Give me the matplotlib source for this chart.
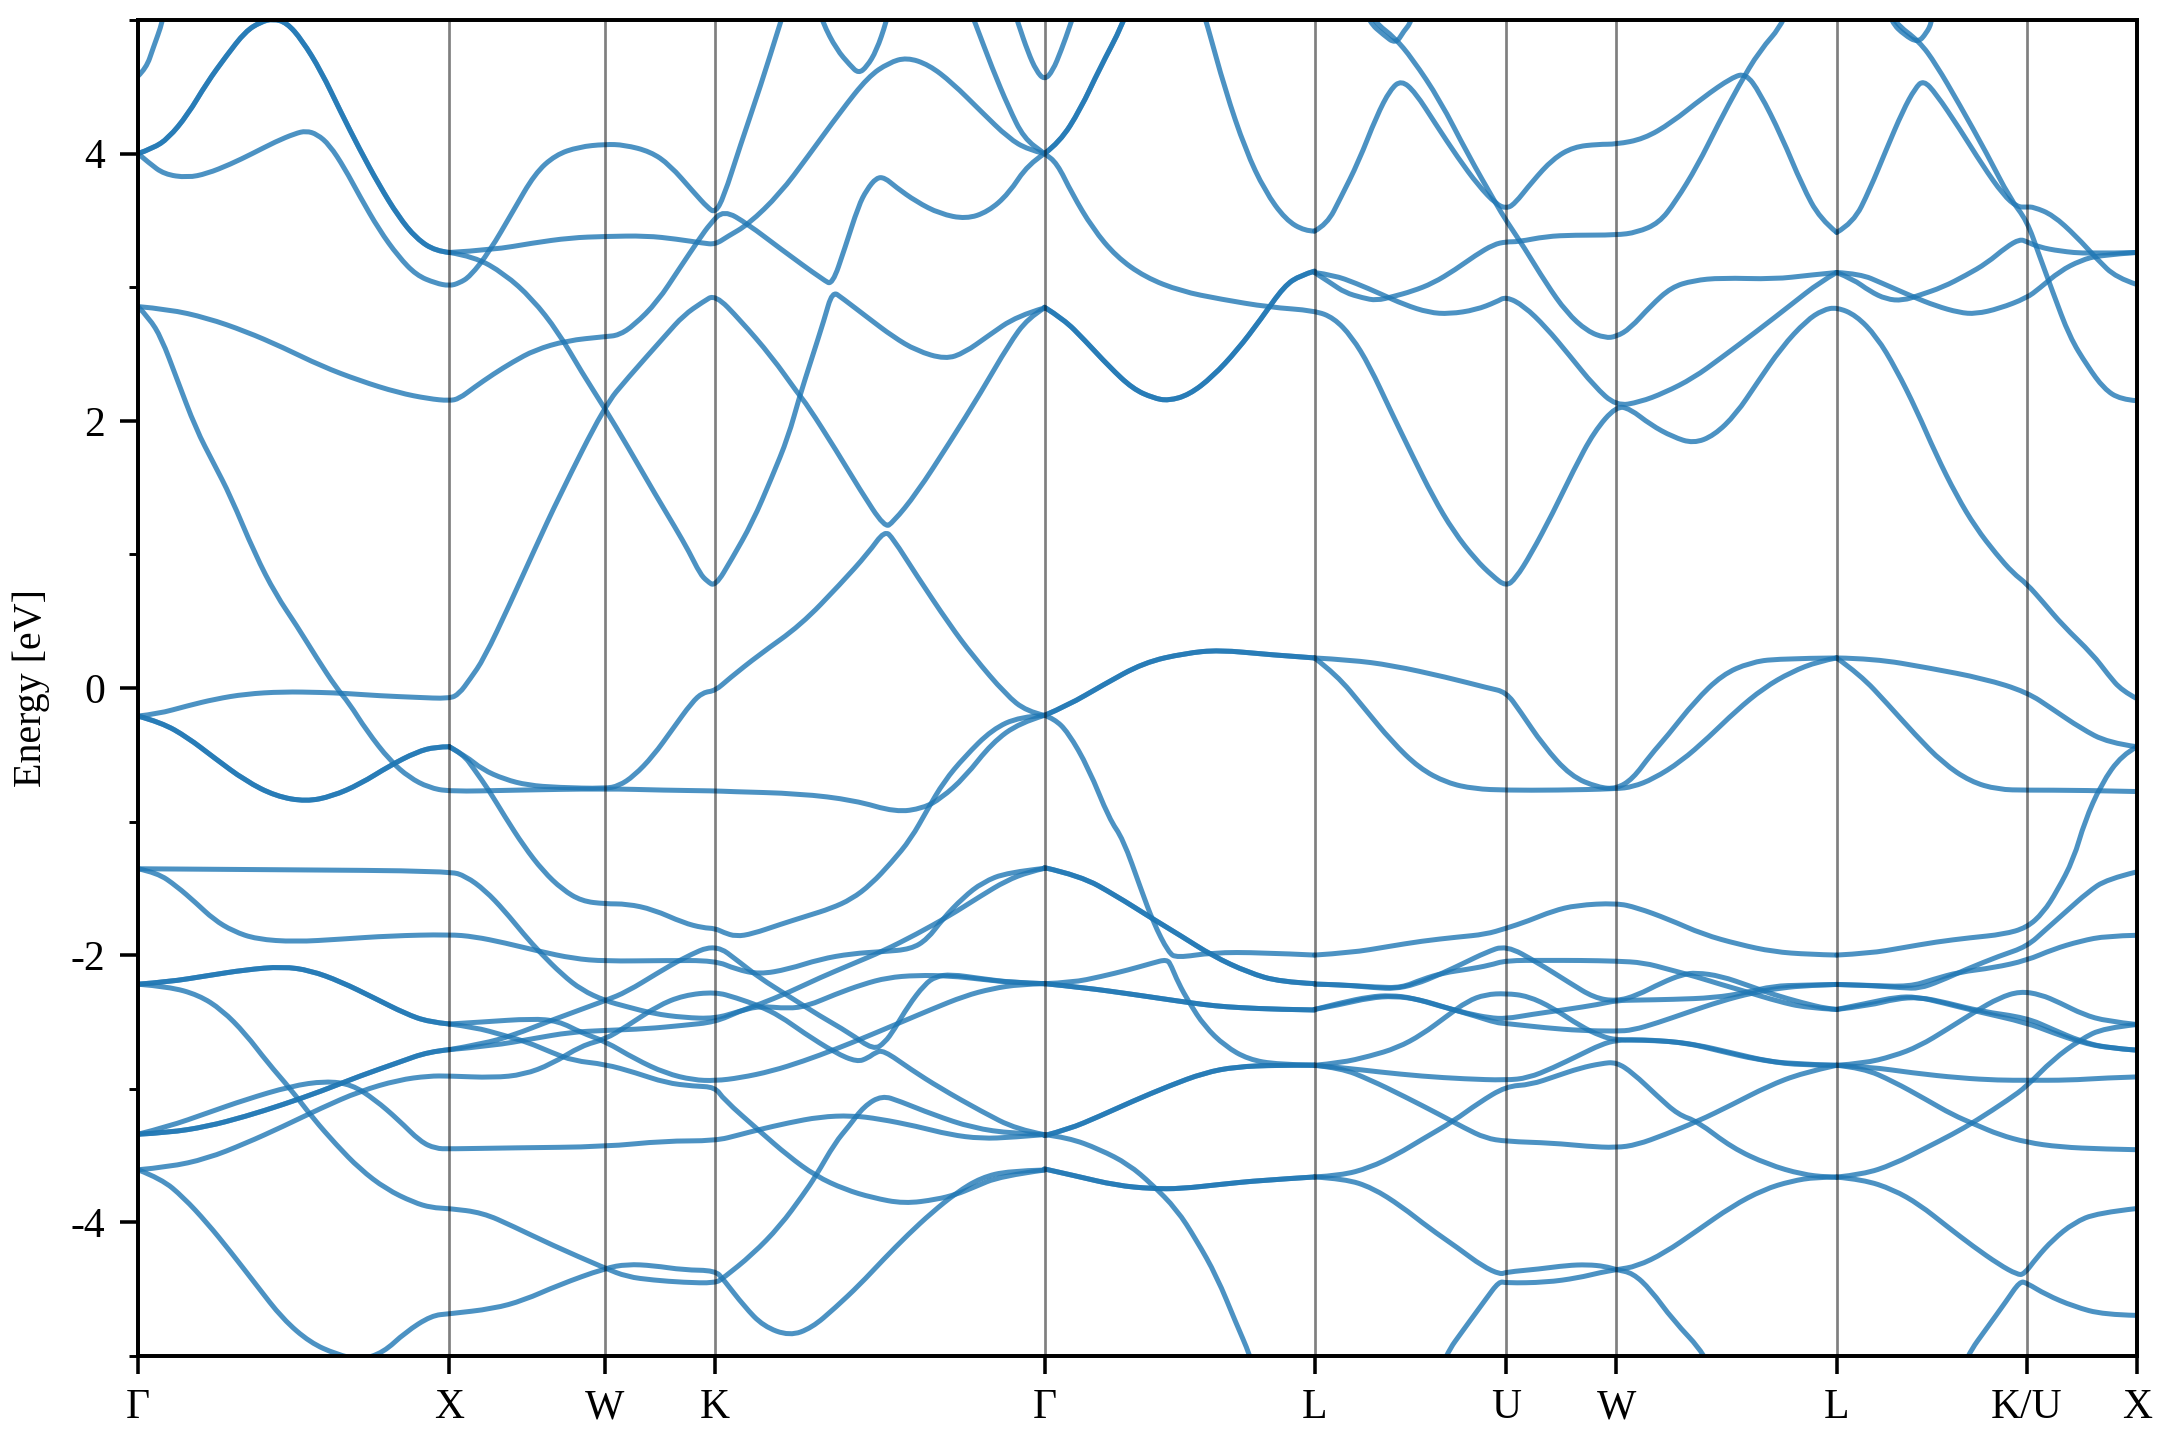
import matplotlib
matplotlib.use('Agg')
import matplotlib.pyplot as plt
from matplotlib.patches import PathPatch
from matplotlib.path import Path
import numpy as np

plt.rcParams['font.family'] = ['Liberation Serif', 'DejaVu Serif']
plt.rcParams['axes.unicode_minus'] = False

# high symmetry points, k is the distance along the path
k_ticks = [0, 226, 339, 419, 658, 854, 993, 1073, 1233, 1371, 1451]
k_labels = ['Γ', 'X', 'W', 'K', 'Γ', 'L', 'U', 'W', 'L', 'K/U', 'X']

# Gamma - X, bands that are doubly degenerate
gx_d1 = [(0,4.0),(11,4.04),(22,4.115),(36,4.29),(50,4.53),(64,4.73),(78,4.915),(89,4.985),(98,5.01),(108,4.98),(119,4.85),(133,4.615),(147,4.315),(161,4.03),(175,3.765),(189,3.53),(202,3.365),(216,3.27),(226,3.26)]
gx_d2 = [(0,-.21),(17,-.258),(36,-.37),(55,-.52),(78,-.695),(100,-.81),(122,-.85),(141,-.81),(161,-.72),(183,-.58),(202,-.48),(216,-.44),(226,-.44)]
gx_d3 = [(0,-2.217),(22,-2.2),(50,-2.154),(78,-2.109),(105,-2.085),(125,-2.114),(147,-2.197),(172,-2.323),(194,-2.437),(211,-2.5),(226,-2.515)]
gx_d4 = [(0,-3.34),(22,-3.328),(50,-3.283),(78,-3.207),(105,-3.119),(133,-3.018),(161,-2.904),(189,-2.803),(211,-2.722),(226,-2.707)]

# Gamma - X - W - K - Gamma
p1 = [(0,4.58),(6,4.64),(11,4.79),(18,4.99),(20,5.1)]
p2 = [(0,4.0),(8,3.93),(19,3.845),(36,3.82),(50,3.85),(67,3.92),(83,4.0),(100,4.09),(114,4.15),(122,4.17),(130,4.145),(139,4.065),(150,3.89),(161,3.68),(175,3.43),(189,3.23),(202,3.09),(216,3.03),(226,3.01),
      (233,3.03),(241,3.08),(255,3.265),(272,3.565),(288,3.85),(303,3.99),(320,4.05),(339,4.07),(353,4.065),(372,4.015),(386,3.915),(403,3.715),(414,3.59),(419,3.56),(425,3.67),(437,4.055),(452,4.51),(466,4.97),(470,5.1)]
p3 = [(0,2.855),(22,2.835),(50,2.77),(78,2.67),(105,2.55),(133,2.41),(161,2.3),(189,2.21),(211,2.165),(226,2.15),
      (233,2.165),(244,2.25),(258,2.35),(272,2.44),(288,2.53),(311,2.6),(339,2.63),(349,2.64),(360,2.715),(377,2.89),(393,3.14),(408,3.37),(415,3.47),(425,3.58),(443,3.47),(466,3.29),(498,3.05),(504,3.02),
      (513,3.29),(523,3.61),(529,3.73),(536,3.82),(542,3.82),(550,3.75),(565,3.64),(582,3.55),(601,3.51),(617,3.565),(632,3.7),(646,3.92),(658,4.0)]
p4 = [(0,2.855),(8,2.77),(17,2.62),(28,2.32),(42,1.94),(55,1.68),(67,1.44),(85,1.0),(100,.7),(115,.47),(130,.22),(144,0),(153,-.11),(166,-.32),(183,-.545),(197,-.67),(211,-.745),(226,-.775),
      (272,-.765),(339,-.753),(382,-.765),(419,-.77),(429,-.775),(480,-.79),(520,-.84),(550,-.93),(570,-.9),(583,-.825),(600,-.67),(620,-.41),(640,-.26),(658,-.205)]
p5 = [(0,-.21),(14,-.195),(36,-.133),(56,-.083),(78,-.045),(105,-.028),(133,-.033),(150,-.04),(175,-.058),(202,-.07),(226,-.08),
      (233,-.045),(241,.067),(251,.217),(270,.63),(288,1.04),(306,1.44),(339,2.115),(355,2.315),(383,2.64),(396,2.79),(410,2.89),(419,2.945),
      (437,2.755),(460,2.48),(479,2.205),(486,2.115),(507,1.775),(524,1.485),(542,1.2),(548,1.24),(565,1.455),(589,1.835),(612,2.215),(632,2.57),(646,2.77),(658,2.845)]
p6 = [(0,-1.353),(100,-1.36),(226,-1.37),(238,-1.409),(252,-1.515),(266,-1.667),(280,-1.843),(292,-1.982),(308,-2.146),(322,-2.26),(339,-2.341),(355,-2.386),(374,-2.437),(396,-2.467),(419,-2.475),
      (437,-2.418),(451,-2.38),(472,-2.4),(486,-2.38),(506,-2.293),(526,-2.218),(544,-2.168),(565,-2.15),(590,-2.155),(612,-2.18),(635,-2.205),(658,-2.213)]
p7 = [(0,-1.353),(14,-1.383),(28,-1.483),(42,-1.608),(55,-1.733),(69,-1.82),(86,-1.88),(114,-1.9),(147,-1.88),(183,-1.855),(226,-1.845),
      (244,-1.861),(266,-1.907),(291,-1.97),(316,-2.025),(339,-2.045),(382,-2.04),(419,-2.04),(434,-2.105),(451,-2.143),(472,-2.105),(495,-2.03),(518,-1.988),(541,-1.973),(561,-1.955),(573,-1.88),(584,-1.73),(599,-1.568),(613,-1.455),(631,-1.38),(658,-1.35)]
p8 = [(0,-2.217),(22,-2.235),(44,-2.298),(61,-2.41),(78,-2.588),(94,-2.803),(111,-3.005),(127,-3.22),(144,-3.42),(161,-3.6),(180,-3.75),(200,-3.85),(213,-3.89),(226,-3.896),
      (250,-3.927),(272,-4.028),(300,-4.167),(339,-4.343),(355,-4.407),(374,-4.432),(396,-4.449),(419,-4.455),(425,-4.415),(446,-4.24),(466,-4.028),(483,-3.79),(492,-3.653),(506,-3.403),(516,-3.28),(527,-3.13),(540,-3.05),(553,-3.093),(577,-3.193),(606,-3.293),(635,-3.335),(658,-3.343)]
p9 = [(0,-3.34),(22,-3.283),(50,-3.182),(78,-3.081),(111,-2.98),(136,-2.942),(155,-2.967),(172,-3.081),(189,-3.232),(205,-3.396),(216,-3.447),(226,-3.45),
      (272,-3.442),(339,-3.434),(382,-3.39),(419,-3.39),(437,-3.343),(451,-3.305),(472,-3.255),(495,-3.21),(518,-3.2),(538,-3.225),(565,-3.28),(589,-3.343),(612,-3.373),(635,-3.363),(658,-3.343)]
p10 = [(0,-3.606),(22,-3.586),(50,-3.523),(78,-3.409),(105,-3.283),(133,-3.144),(161,-3.018),(189,-2.934),(211,-2.904),(226,-2.904),
       (258,-2.917),(280,-2.894),(300,-2.816),(322,-2.677),(339,-2.63),(355,-2.53),(377,-2.38),(396,-2.3),(419,-2.275),(434,-2.318),(451,-2.38),(466,-2.455),(483,-2.58),(506,-2.73),(522,-2.8),(530,-2.768),(535,-2.73),(541,-2.71),(561,-2.855),(582,-2.993),(612,-3.168),(638,-3.305),(658,-3.343)]
p11 = [(0,-3.606),(17,-3.674),(33,-3.813),(50,-4.002),(67,-4.217),(86,-4.47),(105,-4.722),(125,-4.9),(144,-4.987),(161,-5.03),(178,-4.975),(194,-4.823),(213,-4.697),(226,-4.684),
       (258,-4.646),(280,-4.583),(305,-4.47),(339,-4.343),(355,-4.313),(374,-4.323),(396,-4.356),(419,-4.36),(425,-4.428),(440,-4.628),(454,-4.778),(473,-4.85),(489,-4.79),(506,-4.64),(524,-4.465),(541,-4.278),(559,-4.09),(576,-3.928),(594,-3.778),(612,-3.665),(632,-3.615),(658,-3.608)]

# pieces that leave the X point
p12 = [(226,3.26),(258,3.28),(286,3.33),(314,3.37),(339,3.38),(369,3.385),(391,3.36),(410,3.33),(419,3.32),(428,3.38),(443,3.47),(466,3.7),(486,3.975),(510,4.315),(530,4.575),(545,4.68),(558,4.72),(574,4.665),(591,4.53),(612,4.315),(632,4.115),(646,4.03),(658,4.0)]
p13 = [(226,3.26),(244,3.23),(266,3.1),(286,2.915),(305,2.665),(322,2.365),(339,2.09),(355,1.815),(376,1.44),(390,1.2),(400,1.02),(408,.855),(413,.8),(419,.76),
       (431,.965),(446,1.24),(460,1.575),(472,1.88),(480,2.175),(489,2.465),(498,2.755),(504,2.97),(511,2.92),(530,2.77),(548,2.63),(565,2.525),(586,2.46),(600,2.51),(617,2.635),(638,2.785),(658,2.845)]
p14 = [(226,-.44),(238,-.51),(250,-.61),(266,-.683),(283,-.728),(305,-.745),(339,-.753),(349,-.733),(360,-.658),(374,-.508),(388,-.308),(402,-.108),(410,-.033),(419,-.021),(429,.07),(451,.25),(481,.47),(510,.78),(530,1.01),(542,1.18),(548,1.12),(565,.845),(589,.475),(606,.24),(630,-.05),(645,-.175),(658,-.205)]
p15 = [(226,-.44),(236,-.495),(244,-.608),(255,-.77),(266,-.958),(280,-1.183),(294,-1.37),(308,-1.508),(322,-1.595),(339,-1.616),(355,-1.616),(374,-1.658),(396,-1.758),(410,-1.795),(419,-1.8),(425,-1.83),(434,-1.86),(446,-1.84),(466,-1.77),(486,-1.705),(503,-1.65),(518,-1.58),(532,-1.47),(547,-1.305),(561,-1.13),(573,-.91),(585,-.7),(600,-.515),(620,-.31),(640,-.215),(658,-.205)]
p16 = [(226,-2.515),(250,-2.5),(286,-2.475),(305,-2.492),(322,-2.581),(339,-2.644),(361,-2.778),(383,-2.884),(403,-2.934),(419,-2.94),(437,-2.918),(460,-2.868),(483,-2.793),(506,-2.705),(530,-2.605),(553,-2.505),(576,-2.405),(600,-2.305),(620,-2.25),(640,-2.218),(658,-2.213)]
p17 = [(226,-2.515),(244,-2.538),(266,-2.601),(283,-2.652),(300,-2.727),(316,-2.79),(339,-2.816),(361,-2.879),(383,-2.955),(403,-2.98),(419,-2.987),(425,-3.078),(451,-3.315),(472,-3.503),(492,-3.653),(513,-3.753),(533,-3.815),(556,-3.86),(580,-3.828),(594,-3.79),(606,-3.74),(626,-3.653),(658,-3.608)]
p18 = [(226,-2.707),(250,-2.664),(272,-2.601),(300,-2.487),(339,-2.341),(355,-2.273),(377,-2.134),(396,-2.02),(419,-1.915),(437,-2.055),(451,-2.168),(472,-2.305),(495,-2.455),(516,-2.58),(534,-2.71),(542,-2.655),(549,-2.555),(559,-2.38),(571,-2.218),(579,-2.16),(590,-2.143),(612,-2.175),(635,-2.205),(658,-2.213)]
p19 = [(226,-2.707),(258,-2.677),(286,-2.626),(314,-2.576),(339,-2.563),(369,-2.551),(396,-2.525),(419,-2.5),(437,-2.418),(451,-2.368),(472,-2.28),(495,-2.168),(518,-2.068),(541,-1.968),(565,-1.843),(589,-1.705),(612,-1.555),(630,-1.443),(647,-1.375),(658,-1.35)]

# top of the window around K - Gamma - L
p20 = [(493,5.1),(497,4.98),(507,4.78),(517,4.66),(523,4.6),(529,4.65),(536,4.77),(543,4.98),(546,5.1)]
p21 = [(603,5.1),(608,4.97),(620,4.64),(632,4.345),(643,4.115),(658,4.0),(667,3.93),(678,3.7),(693,3.44),(710,3.23),(731,3.075),(757,2.97),(786,2.91),(821,2.85),(854,2.825),
       (868,2.77),(881,2.63),(894,2.41),(909,2.08),(925,1.74),(940,1.43),(955,1.17),(971,.96),(983,.84),(993,.76),(1000,.82),(1011,1.0),(1027,1.31),(1042,1.63),(1057,1.92),(1073,2.11),
       (1083,2.09),(1098,1.97),(1114,1.88),(1129,1.83),(1144,1.89),(1160,2.05),(1175,2.28),(1193,2.55),(1211,2.75),(1223,2.83),(1233,2.85),(1247,2.79),(1262,2.63),(1276,2.39),(1291,2.08),(1305,1.75),(1320,1.44),(1334,1.2),(1349,1.0),(1361,.86),(1371,.78),(1383,.64),(1397,.47),(1419,.25),(1430,.1),(1440,-.02),(1451,-.08)]
p22 = [(635,5.1),(639,4.97),(646,4.76),(652,4.62),(658,4.55),(664,4.62),(670,4.77),(677,4.97),(681,5.1)]

# Gamma - L
gl_d1 = [(658,4.0),(669,4.085),(684,4.33),(698,4.636),(715,4.97),(719,5.1)]
gl_d2 = [(658,2.85),(672,2.76),(687,2.605),(705,2.405),(722,2.24),(737,2.17),(748,2.15),(763,2.195),(780,2.33),(798,2.53),(815,2.76),(832,3.01),(844,3.09),(854,3.12)]
gl_d3 = [(658,-.205),(675,-.13),(700,.02),(730,.19),(760,.26),(785,.285),(820,.25),(854,.225)]
gl_d4 = [(658,-1.345),(684,-1.405),(710,-1.555),(735,-1.718),(757,-1.855),(780,-2.005),(806,-2.13),(829,-2.2),(854,-2.213)]
gl_d5 = [(658,-2.213),(687,-2.243),(722,-2.293),(743,-2.325),(763,-2.355),(782,-2.38),(800,-2.393),(827,-2.405),(854,-2.41)]
gl_d6 = [(658,-3.35),(675,-3.305),(698,-3.205),(722,-3.093),(748,-2.98),(774,-2.88),(797,-2.835),(827,-2.823),(854,-2.823)]
gl_d7 = [(658,-3.6),(681,-3.653),(710,-3.723),(736,-3.748),(757,-3.748),(786,-3.715),(815,-3.685),(854,-3.66)]
gl1 = [(772,5.1),(776,4.97),(789,4.48),(804,4.025),(818,3.72),(833,3.505),(847,3.42),(854,3.42)]
gl2 = [(658,-.205),(665,-.23),(675,-.33),(690,-.6),(705,-.98),(715,-1.13),(728,-1.505),(737,-1.755),(748,-1.98),(754,-2.02),(780,-1.98),(815,-1.98),(854,-1.999)]
gl3 = [(658,-2.213),(678,-2.205),(699,-2.16),(719,-2.11),(736,-2.06),(747,-2.03),(750,-2.08),(755,-2.205),(763,-2.355),(774,-2.53),(789,-2.68),(806,-2.78),(827,-2.818),(854,-2.824)]
gl4 = [(658,-3.343),(675,-3.365),(698,-3.453),(719,-3.565),(736,-3.715),(754,-3.903),(768,-4.128),(783,-4.403),(797,-4.753),(807,-4.99),(812,-5.15)]

# L - U - W - L
lu1 = [(854,3.42),(863,3.47),(873,3.67),(886,3.94),(899,4.28),(909,4.48),(917,4.55),(927,4.46),(942,4.22),(958,3.97),(973,3.76),(986,3.62),(993,3.59),(999,3.62),(1012,3.79),(1027,3.96),(1042,4.05),(1060,4.07),(1073,4.07),(1093,4.11),(1113,4.23),(1136,4.42),(1157,4.57),(1167,4.6),(1177,4.46),(1193,4.13),(1208,3.76),(1221,3.51),(1233,3.41)]
lu2 = [(890,5.1),(898,4.98),(912,4.87),(925,4.71),(945,4.4),(965,4.0),(986,3.62),(993,3.5),(1006,3.3),(1022,3.03),(1037,2.81),(1052,2.67),(1065,2.62),(1073,2.63),(1083,2.69),(1098,2.86),(1113,3.0),(1129,3.05),(1149,3.07),(1188,3.06),(1213,3.09),(1233,3.11)]
lu3 = [(889,5.1),(894,4.98),(904,4.89),(913,4.82),(919,4.92),(924,4.98),(927,5.1)]
lu4 = [(854,3.11),(866,3.03),(876,2.96),(889,2.92),(899,2.9),(911,2.93),(925,2.97),(940,3.03),(956,3.13),(971,3.24),(984,3.32),(993,3.34),(1002,3.34),(1022,3.38),(1042,3.39),(1073,3.39),(1088,3.41),(1104,3.48),(1116,3.64),(1132,3.91),(1147,4.22),(1162,4.51),(1177,4.77),(1195,4.98),(1205,5.25)]
lu5 = [(854,3.11),(868,3.09),(884,3.03),(902,2.95),(919,2.87),(937,2.81),(952,2.8),(971,2.83),(986,2.89),(993,2.93),(1006,2.86),(1022,2.7),(1039,2.49),(1057,2.26),(1073,2.11),(1090,2.14),(1108,2.21),(1129,2.32),(1149,2.47),(1175,2.67),(1200,2.87),(1221,3.04),(1233,3.11)]
lu6 = [(854,.225),(880,.21),(910,.17),(950,.08),(980,0),(993,-.03),(1003,-.17),(1020,-.43),(1040,-.66),(1060,-.745),(1073,-.755),(1085,-.68),(1098,-.5),(1110,-.36),(1130,-.1),(1150,.1),(1170,.19),(1190,.22),(1233,.225)]
lu7 = [(854,.225),(870,.1),(890,-.15),(910,-.4),(930,-.6),(950,-.71),(970,-.755),(993,-.765),(1030,-.765),(1073,-.755),(1085,-.74),(1100,-.68),(1120,-.55),(1140,-.37),(1160,-.17),(1180,0),(1200,.12),(1220,.2),(1233,.225)]
lu8 = [(854,-1.999),(881,-1.981),(907,-1.936),(932,-1.894),(958,-1.864),(978,-1.844),(993,-1.799),(1009,-1.744),(1027,-1.669),(1044,-1.626),(1073,-1.61),(1088,-1.644),(1111,-1.731),(1136,-1.844),(1162,-1.919),(1187,-1.974),(1213,-1.994),(1233,-1.999)]
lu9 = [(854,-2.216),(873,-2.221),(899,-2.239),(917,-2.244),(932,-2.181),(948,-2.131),(965,-2.106),(981,-2.076),(993,-2.039),(1022,-2.039),(1047,-2.039),(1073,-2.044),(1093,-2.056),(1111,-2.106),(1131,-2.161),(1149,-2.219),(1170,-2.281),(1190,-2.344),(1211,-2.394),(1233,-2.406)]
lu10 = [(854,-2.216),(873,-2.221),(899,-2.244),(912,-2.251),(927,-2.219),(945,-2.144),(963,-2.056),(978,-1.981),(993,-1.925),(1016,-2.056),(1039,-2.206),(1057,-2.319),(1073,-2.345),(1088,-2.301),(1106,-2.206),(1121,-2.144),(1131,-2.131),(1149,-2.156),(1170,-2.231),(1187,-2.294),(1208,-2.356),(1226,-2.401),(1233,-2.406)]
lu11 = [(854,-2.406),(873,-2.356),(894,-2.311),(909,-2.301),(925,-2.319),(945,-2.381),(965,-2.436),(981,-2.469),(993,-2.476),(1011,-2.444),(1037,-2.406),(1060,-2.369),(1073,-2.339),(1088,-2.336),(1114,-2.331),(1144,-2.319),(1167,-2.281),(1187,-2.231),(1208,-2.224),(1233,-2.219)]
lu12 = [(854,-2.406),(873,-2.369),(894,-2.319),(912,-2.306),(930,-2.331),(950,-2.394),(971,-2.456),(986,-2.506),(993,-2.511),(1022,-2.544),(1047,-2.564),(1073,-2.569),(1085,-2.561),(1103,-2.506),(1124,-2.431),(1149,-2.344),(1172,-2.281),(1193,-2.244),(1213,-2.226),(1233,-2.219)]
lu13 = [(854,-2.824),(873,-2.806),(894,-2.756),(914,-2.694),(932,-2.594),(950,-2.456),(965,-2.344),(978,-2.294),(993,-2.286),(1009,-2.306),(1027,-2.394),(1047,-2.531),(1062,-2.606),(1073,-2.636),(1098,-2.636),(1124,-2.656),(1149,-2.719),(1175,-2.781),(1200,-2.814),(1233,-2.824)]
lu14 = [(854,-2.824),(876,-2.844),(901,-2.874),(932,-2.906),(963,-2.926),(993,-2.936),(1009,-2.919),(1027,-2.844),(1047,-2.744),(1062,-2.669),(1073,-2.636),(1088,-2.631),(1111,-2.644),(1131,-2.669),(1157,-2.731),(1183,-2.794),(1208,-2.824),(1233,-2.824)]
lu15 = [(854,-2.824),(873,-2.844),(894,-2.931),(919,-3.056),(945,-3.194),(963,-3.294),(978,-3.369),(993,-3.394),(1027,-3.406),(1052,-3.431),(1073,-3.441),(1088,-3.419),(1108,-3.344),(1132,-3.244),(1157,-3.119),(1183,-2.981),(1208,-2.881),(1233,-2.824)]
lu16 = [(854,-3.66),(873,-3.649),(894,-3.591),(914,-3.491),(932,-3.379),(955,-3.241),(973,-3.106),(993,-2.981),(1011,-2.969),(1029,-2.906),(1047,-2.844),(1062,-2.811),(1073,-2.8),(1085,-2.881),(1103,-3.056),(1118,-3.194),(1132,-3.244),(1157,-3.441),(1183,-3.566),(1208,-3.641),(1226,-3.661),(1233,-3.661)]
lu17 = [(854,-3.66),(876,-3.674),(896,-3.741),(917,-3.879),(937,-4.041),(958,-4.191),(976,-4.329),(989,-4.39),(993,-4.372),(1017,-4.349),(1037,-4.322),(1052,-4.316),(1065,-4.329),(1073,-4.354),(1085,-4.379),(1098,-4.504),(1114,-4.729),(1138,-4.992),(1144,-5.15)]
lu18 = [(944,-5.15),(949,-4.991),(963,-4.791),(978,-4.579),(988,-4.44),(993,-4.454),(1022,-4.449),(1045,-4.416),(1062,-4.374),(1073,-4.354),(1088,-4.329),(1108,-4.229),(1131,-4.067),(1157,-3.879),(1180,-3.754),(1200,-3.691),(1218,-3.661),(1233,-3.661)]

# L - K/U - X
lx1 = [(1233,3.41),(1245,3.48),(1257,3.73),(1269,4.03),(1281,4.32),(1290,4.49),(1296,4.55),(1305,4.45),(1322,4.19),(1339,3.91),(1354,3.69),(1364,3.6),(1371,3.6),(1376,3.6),(1390,3.54),(1407,3.38),(1422,3.21),(1436,3.07),(1451,3.02)]
lx2 = [(1268,5.1),(1275,4.98),(1293,4.84),(1305,4.67),(1322,4.37),(1342,4.0),(1359,3.66),(1371,3.5),(1380,3.24),(1390,2.96),(1402,2.63),(1415,2.41),(1427,2.24),(1439,2.16),(1451,2.15)]
lx3 = [(1269,5.1),(1273,4.98),(1282,4.89),(1292,4.83),(1298,4.9),(1302,4.98),(1304,5.1)]
lx4 = [(1233,3.11),(1245,3.06),(1257,2.97),(1269,2.91),(1281,2.9),(1293,2.94),(1310,3.0),(1327,3.09),(1342,3.18),(1356,3.3),(1366,3.36),(1371,3.34),(1380,3.3),(1395,3.27),(1415,3.25),(1451,3.26)]
lx5 = [(1233,3.11),(1250,3.1),(1266,3.03),(1288,2.93),(1305,2.86),(1322,2.81),(1334,2.8),(1351,2.84),(1371,2.92),(1380,2.99),(1395,3.12),(1410,3.2),(1424,3.24),(1451,3.26)]
lx6 = [(1233,.225),(1260,.22),(1300,.15),(1340,.07),(1371,-.03),(1390,-.16),(1410,-.3),(1430,-.41),(1451,-.44)]
lx7 = [(1233,.225),(1250,.1),(1270,-.12),(1290,-.35),(1310,-.56),(1330,-.7),(1350,-.76),(1371,-.765),(1410,-.765),(1451,-.775)]
lx8 = [(1233,-1.999),(1257,-1.986),(1281,-1.944),(1305,-1.901),(1330,-1.869),(1354,-1.844),(1371,-1.794),(1383,-1.681),(1393,-1.519),(1405,-1.281),(1413,-1.0),(1425,-.72),(1440,-.5),(1451,-.44)]
lx9 = [(1233,-2.219),(1257,-2.226),(1281,-2.244),(1293,-2.249),(1308,-2.194),(1327,-2.106),(1351,-2.006),(1371,-1.936),(1385,-1.806),(1400,-1.669),(1415,-1.531),(1429,-1.431),(1451,-1.376)]
lx10 = [(1233,-2.219),(1257,-2.226),(1286,-2.236),(1303,-2.181),(1322,-2.126),(1347,-2.094),(1371,-2.039),(1390,-1.956),(1410,-1.894),(1429,-1.856),(1451,-1.851)]
lx11 = [(1233,-2.406),(1257,-2.356),(1276,-2.314),(1291,-2.311),(1310,-2.356),(1334,-2.419),(1371,-2.506),(1390,-2.581),(1410,-2.651),(1429,-2.694),(1451,-2.711)]
lx12 = [(1233,-2.406),(1257,-2.376),(1276,-2.326),(1293,-2.314),(1313,-2.356),(1337,-2.419),(1371,-2.469),(1390,-2.556),(1410,-2.644),(1429,-2.694),(1451,-2.711)]
lx13 = [(1233,-2.824),(1252,-2.811),(1274,-2.756),(1293,-2.681),(1313,-2.556),(1334,-2.419),(1351,-2.319),(1366,-2.27),(1381,-2.294),(1395,-2.356),(1412,-2.444),(1429,-2.494),(1451,-2.519)]
lx14 = [(1233,-2.824),(1257,-2.836),(1288,-2.881),(1322,-2.919),(1351,-2.936),(1371,-2.936),(1402,-2.936),(1427,-2.919),(1451,-2.911)]
lx15 = [(1233,-2.824),(1252,-2.844),(1274,-2.944),(1298,-3.081),(1317,-3.194),(1334,-3.269),(1351,-3.344),(1371,-3.401),(1395,-3.436),(1427,-3.451),(1451,-3.456)]
lx16 = [(1233,-3.661),(1252,-3.641),(1274,-3.566),(1298,-3.441),(1317,-3.341),(1334,-3.241),(1358,-3.079),(1371,-2.981),(1390,-2.781),(1410,-2.631),(1427,-2.544),(1451,-2.519)]
lx17 = [(1233,-3.661),(1252,-3.679),(1274,-3.754),(1293,-3.866),(1313,-4.029),(1332,-4.179),(1351,-4.316),(1364,-4.39),(1369,-4.39),(1378,-4.266),(1390,-4.129),(1405,-4.004),(1422,-3.929),(1451,-3.896)]
lx18 = [(1322,-5.15),(1328,-4.991),(1342,-4.791),(1356,-4.591),(1366,-4.44),(1371,-4.454),(1385,-4.541),(1405,-4.629),(1427,-4.691),(1451,-4.696)]

single = [p1, p2, p3, p4, p5, p6, p7, p8, p9, p10, p11, p12, p13, p14, p15, p16, p17, p18, p19,
          p20, p21, p22, gl1, gl2, gl3, gl4,
          lu1, lu2, lu3, lu4, lu5, lu6, lu7, lu8, lu9, lu10, lu11, lu12, lu13, lu14, lu15, lu16, lu17, lu18,
          lx1, lx2, lx3, lx4, lx5, lx6, lx7, lx8, lx9, lx10, lx11, lx12, lx13, lx14, lx15, lx16, lx17, lx18]
double = [gx_d1, gx_d2, gx_d3, gx_d4, gl_d1, gl_d2, gl_d3, gl_d4, gl_d5, gl_d6, gl_d7]

fig, ax = plt.subplots(figsize=(7.2, 4.8), dpi=300)
fig.subplots_adjust(left=138/2160, right=2137/2160, top=1-20/1440, bottom=1-1356/1440)


def draw(band):
    # the read points are the control points of a quadratic curve
    pts = np.array(band, dtype=float)
    verts = [pts[0]]
    codes = [Path.MOVETO]
    for i in range(1, len(pts) - 1):
        end = pts[i + 1] if i == len(pts) - 2 else (pts[i] + pts[i + 1]) / 2
        verts += [pts[i], end]
        codes += [Path.CURVE3, Path.CURVE3]
    if len(pts) == 2:
        verts.append(pts[1])
        codes.append(Path.LINETO)
    ax.add_patch(PathPatch(Path(verts, codes), fill=False, edgecolor='#1f77b4',
                           alpha=0.8, lw=1.2, capstyle='round', joinstyle='round'))


for band in single:
    draw(band)
for band in double:
    draw(band)
    draw(band)

for k in k_ticks[1:-1]:
    ax.axvline(k, color='k', alpha=0.5, lw=0.65, zorder=3)

ax.set_xlim(0, 1451)
ax.set_ylim(-5, 5)
ax.set_xticks(k_ticks)
ax.set_xticklabels(k_labels)
ax.set_yticks([-4, -2, 0, 2, 4])
ax.set_yticks([-5, -3, -1, 1, 3, 5], minor=True)
ax.tick_params(axis='both', which='major', length=4.4, width=0.85, labelsize=10, pad=3.5)
ax.tick_params(axis='y', which='minor', length=2.2, width=0.7)
ax.set_ylabel('Energy [eV]', fontsize=9.6, labelpad=5)
for s in ax.spines.values():
    s.set_linewidth(0.95)

fig.savefig('out.png', dpi=300)
